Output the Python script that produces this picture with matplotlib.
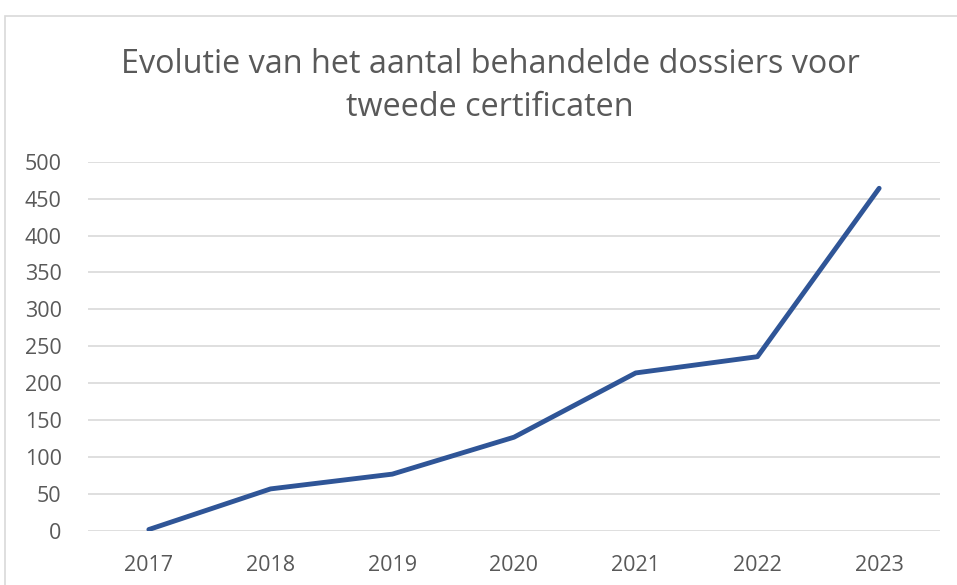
import matplotlib.pyplot as plt
from matplotlib.patches import Rectangle

# Data
jaren = ["2017", "2018", "2019", "2020", "2021", "2022", "2023"]
dossiers = [2, 57, 77, 127, 214, 236, 464]
y_ticks = [0, 50, 100, 150, 200, 250, 300, 350, 400, 450, 500]

plt.rcParams['font.family'] = ['Open Sans', 'DejaVu Sans']
tekst_kleur = "#595959"

fig = plt.figure(figsize=(9.57, 5.85), dpi=100)
fig.patch.set_facecolor("white")

# light border of the chart area
fig.patches.append(Rectangle((5 / 957, -0.05), 1.2, 1 - 16 / 585 + 0.05,
                             transform=fig.transFigure, fill=False,
                             edgecolor="#d9d9d9", linewidth=1.2))

ax = fig.add_axes([88 / 957, 1 - 531 / 585, (940 - 88) / 957, (531 - 161.7) / 585])
x = list(range(len(jaren)))
ax.plot(x, dossiers, color="#2F5597", linewidth=3.5, solid_capstyle="round",
        solid_joinstyle="round", zorder=3)

ax.set_xlim(-0.5, len(jaren) - 0.5)
ax.set_ylim(0, 500)
ax.set_yticks(y_ticks)
ax.set_xticks(x)
ax.set_xticklabels(jaren)
ax.grid(axis="y", color="#d9d9d9", linewidth=1.2)
ax.set_axisbelow(True)
for s in ax.spines.values():
    s.set_visible(False)
ax.tick_params(length=0, labelsize=15.5, colors=tekst_kleur)
ax.tick_params(axis="y", pad=19)
ax.tick_params(axis="x", pad=17)

fig.text(490 / 957, 1 - 86 / 585,
         "Evolutie van het aantal behandelde dossiers voor\ntweede certificaten",
         ha="center", va="center", fontsize=23.3, color=tekst_kleur,
         linespacing=1.4)

fig.savefig("out.png", dpi=100)
